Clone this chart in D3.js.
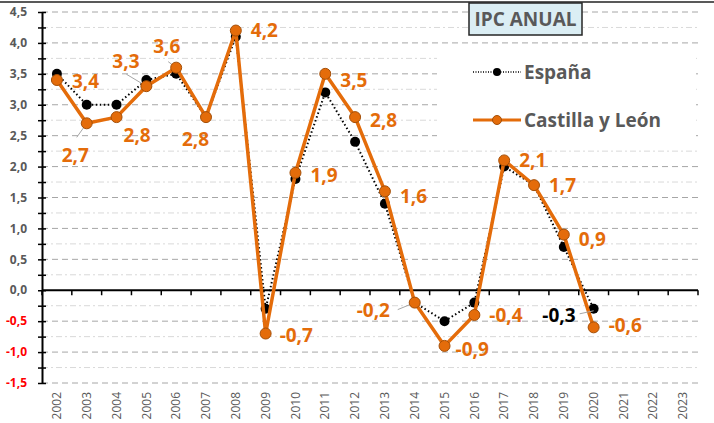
<!DOCTYPE html>
<html>
<head>
<meta charset="utf-8">
<script src="https://d3js.org/d3.v7.min.js"></script>
<style>
    body { margin: 0; background: #fff; }
    svg { display: block; font-family: "Open Sans", sans-serif; }
</style>
</head>
<body>
<script>
(function(){

//chart data
var years = ["2002","2003","2004","2005","2006","2007","2008","2009","2010","2011","2012",
             "2013","2014","2015","2016","2017","2018","2019","2020","2021","2022","2023"];
var espana = [3.5, 3.0, 3.0, 3.4, 3.5, 2.8, 4.1, -0.3, 1.8, 3.2, 2.4, 1.4, -0.2, -0.5, -0.2, 2.0, 1.7, 0.7, -0.3];
var castilla = [3.4, 2.7, 2.8, 3.3, 3.6, 2.8, 4.2, -0.7, 1.9, 3.5, 2.8, 1.6, -0.2, -0.9, -0.4, 2.1, 1.7, 0.9, -0.6];
var yTicks = [-1.5, -1.0, -0.5, 0, 0.5, 1.0, 1.5, 2.0, 2.5, 3.0, 3.5, 4.0, 4.5];
var seriesNames = ["España", "Castilla y León"];
var chartTitle = "IPC ANUAL";

//label placement for Castilla y León values (pixel offsets from the point)
var labelOffsets = [
    [15, 1], [-25, 32], [7, 18], [-34, -25], [-23, -21], [-24, 22], [15, 0], [14, 2], [15, 2], [15, 6],
    [15, 3], [15, 5], [-58, 8], [11, 3], [15, 0], [15, 0], [15, 0], [15, 5], [15, -2]
];
//leader lines: index -> start offset from point
var leaders = { 1: [-10, 14], 3: [-20, -12], 4: [-8, -6], 12: [-17, 7] };

var orange = "#e46c0a",
    grey = "#595959";

//comma decimal, plain hyphen for negatives
function fmt(v){
    return d3.format(".1f")(v).replace(".", ",").replace("\u2212", "-");
}

//chart frame dimensions
var width = 714,
    height = 423,
    left = 42,
    right = 698,
    top = 12,
    bottom = 383;

var svg = d3.select("body")
    .append("svg")
    .attr("width", width)
    .attr("height", height);

var x = d3.scaleBand()
    .domain(years)
    .range([left, right]);

var y = d3.scaleLinear()
    .domain([-1.5, 4.5])
    .range([bottom, top]);

function px(i){ return x(years[i]) + x.bandwidth() / 2; }

//top border of the chart area
svg.append("line")
    .attr("x1", 0).attr("x2", width)
    .attr("y1", 2).attr("y2", 2)
    .attr("stroke", grey)
    .attr("stroke-width", 2);

//minor gridlines
var minor = d3.range(-1.25, 4.5, 0.5);
svg.selectAll(".minorGrid")
    .data(minor)
    .enter()
    .append("line")
    .attr("class", "minorGrid")
    .attr("x1", left).attr("x2", right)
    .attr("y1", function(d){ return y(d); })
    .attr("y2", function(d){ return y(d); })
    .attr("stroke", "#d9d9d9")
    .attr("stroke-width", 1)
    .attr("stroke-dasharray", "6,3,2,3");

//major gridlines
svg.selectAll(".majorGrid")
    .data(yTicks.filter(function(d){ return d != 0; }))
    .enter()
    .append("line")
    .attr("class", "majorGrid")
    .attr("x1", left).attr("x2", right)
    .attr("y1", function(d){ return y(d); })
    .attr("y2", function(d){ return y(d); })
    .attr("stroke", "#a6a6a6")
    .attr("stroke-width", 1)
    .attr("stroke-dasharray", "6,4");

//legend background hides the gridlines behind it
svg.append("rect")
    .attr("x", 437).attr("y", 45)
    .attr("width", 259).attr("height", 95)
    .attr("fill", "#fff");

//y axis with ticks every 0.25
var yAxis = d3.axisLeft(y)
    .tickValues(d3.range(-1.5, 4.51, 0.25))
    .tickSize(0)
    .tickFormat("");
svg.append("g")
    .attr("transform", "translate(" + left + ",0)")
    .call(yAxis)
    .call(function(g){
        g.select(".domain").attr("stroke", "#000").attr("stroke-width", 2);
        g.selectAll(".tick line").attr("x1", -4).attr("x2", 4).attr("stroke", "#000").attr("stroke-width", 1.5);
    });

//y tick labels
svg.selectAll(".yLabel")
    .data(yTicks)
    .enter()
    .append("text")
    .attr("class", "yLabel")
    .attr("x", 27)
    .attr("y", function(d){ return y(d); })
    .attr("dy", "0.35em")
    .attr("text-anchor", "end")
    .style("font-size", "12px")
    .style("font-weight", "bold")
    .attr("fill", function(d){ return d < 0 ? "#ff0000" : grey; })
    .text(fmt);

//x axis on zero line, ticks between categories
svg.append("line")
    .attr("x1", left).attr("x2", right)
    .attr("y1", y(0)).attr("y2", y(0))
    .attr("stroke", "#000")
    .attr("stroke-width", 2);
svg.selectAll(".xTick")
    .data(d3.range(years.length + 1))
    .enter()
    .append("line")
    .attr("class", "xTick")
    .attr("x1", function(i){ return left + i * x.step(); })
    .attr("x2", function(i){ return left + i * x.step(); })
    .attr("y1", y(0))
    .attr("y2", y(0) + 5)
    .attr("stroke", "#000")
    .attr("stroke-width", 1.5);

//year labels at bottom, rotated
svg.selectAll(".xLabel")
    .data(years)
    .enter()
    .append("text")
    .attr("class", "xLabel")
    .attr("transform", function(d){
        return "translate(" + (x(d) + x.bandwidth() / 2) + "," + (bottom + 9) + ") rotate(-90)";
    })
    .attr("dy", "0.35em")
    .attr("text-anchor", "end")
    .style("font-size", "12px")
    .attr("fill", grey)
    .text(function(d){ return d; });

var line = d3.line()
    .x(function(d, i){ return px(i); })
    .y(function(d){ return y(d); });

//España series
svg.append("path")
    .datum(espana)
    .attr("d", line)
    .attr("fill", "none")
    .attr("stroke", "#000")
    .attr("stroke-width", 2)
    .attr("stroke-dasharray", "1.5,2.5");
svg.selectAll(".espDot")
    .data(espana)
    .enter()
    .append("circle")
    .attr("class", "espDot")
    .attr("cx", function(d, i){ return px(i); })
    .attr("cy", function(d){ return y(d); })
    .attr("r", 5)
    .attr("fill", "#000");

//Castilla y León series
svg.append("path")
    .datum(castilla)
    .attr("d", line)
    .attr("fill", "none")
    .attr("stroke", orange)
    .attr("stroke-width", 3.5)
    .attr("stroke-linejoin", "round");

//leader lines
Object.keys(leaders).forEach(function(k){
    var i = +k;
    svg.append("line")
        .attr("x1", px(i) + leaders[k][0])
        .attr("y1", y(castilla[i]) + leaders[k][1])
        .attr("x2", px(i))
        .attr("y2", y(castilla[i]))
        .attr("stroke", "#a6a6a6")
        .attr("stroke-width", 1);
});
//leader for the España 2020 label
var last = espana.length - 1;
svg.append("line")
    .attr("x1", px(last) - 14).attr("y1", y(espana[last]) + 5)
    .attr("x2", px(last)).attr("y2", y(espana[last]) + 2)
    .attr("stroke", "#a6a6a6")
    .attr("stroke-width", 1);

svg.selectAll(".cylDot")
    .data(castilla)
    .enter()
    .append("circle")
    .attr("class", "cylDot")
    .attr("cx", function(d, i){ return px(i); })
    .attr("cy", function(d){ return y(d); })
    .attr("r", 5.5)
    .attr("fill", orange)
    .attr("stroke", "#a44f08")
    .attr("stroke-width", 1);

//value labels
svg.selectAll(".cylLabel")
    .data(castilla)
    .enter()
    .append("text")
    .attr("class", "cylLabel")
    .attr("x", function(d, i){ return px(i) + labelOffsets[i][0]; })
    .attr("y", function(d, i){ return y(d) + labelOffsets[i][1]; })
    .attr("dy", "0.36em")
    .style("font-size", "19px")
    .style("font-weight", "bold")
    .attr("fill", orange)
    .text(fmt);

svg.append("text")
    .attr("x", px(last) - 18)
    .attr("y", y(espana[last]) + 6)
    .attr("dy", "0.36em")
    .attr("text-anchor", "end")
    .style("font-size", "19px")
    .style("font-weight", "bold")
    .attr("fill", "#000")
    .text(fmt(espana[last]));

//legend
var legendRows = [72, 120];
seriesNames.forEach(function(name, i){
    var ly = legendRows[i];
    svg.append("line")
        .attr("x1", 473).attr("x2", 521)
        .attr("y1", ly).attr("y2", ly)
        .attr("stroke", i == 0 ? "#000" : orange)
        .attr("stroke-width", i == 0 ? 1.5 : 3)
        .attr("stroke-dasharray", i == 0 ? "1,1.5" : null);
    svg.append("circle")
        .attr("cx", 497).attr("cy", ly)
        .attr("r", i == 0 ? 4 : 4.5)
        .attr("fill", i == 0 ? "#000" : orange)
        .attr("stroke", i == 0 ? "none" : "#a44f08");
    svg.append("text")
        .attr("x", 524).attr("y", ly)
        .attr("dy", "0.36em")
        .style("font-size", "19px")
        .style("font-weight", "bold")
        .attr("fill", grey)
        .text(name);
});

//title box
svg.append("rect")
    .attr("x", 469).attr("y", 3)
    .attr("width", 113).attr("height", 32)
    .attr("fill", "#dbeef4")
    .attr("stroke", "#262626")
    .attr("stroke-width", 1.5);
svg.append("text")
    .attr("x", 525.5).attr("y", 19)
    .attr("dy", "0.36em")
    .attr("text-anchor", "middle")
    .style("font-size", "19px")
    .style("font-weight", "bold")
    .attr("fill", grey)
    .text(chartTitle);

})();
</script>
</body>
</html>
